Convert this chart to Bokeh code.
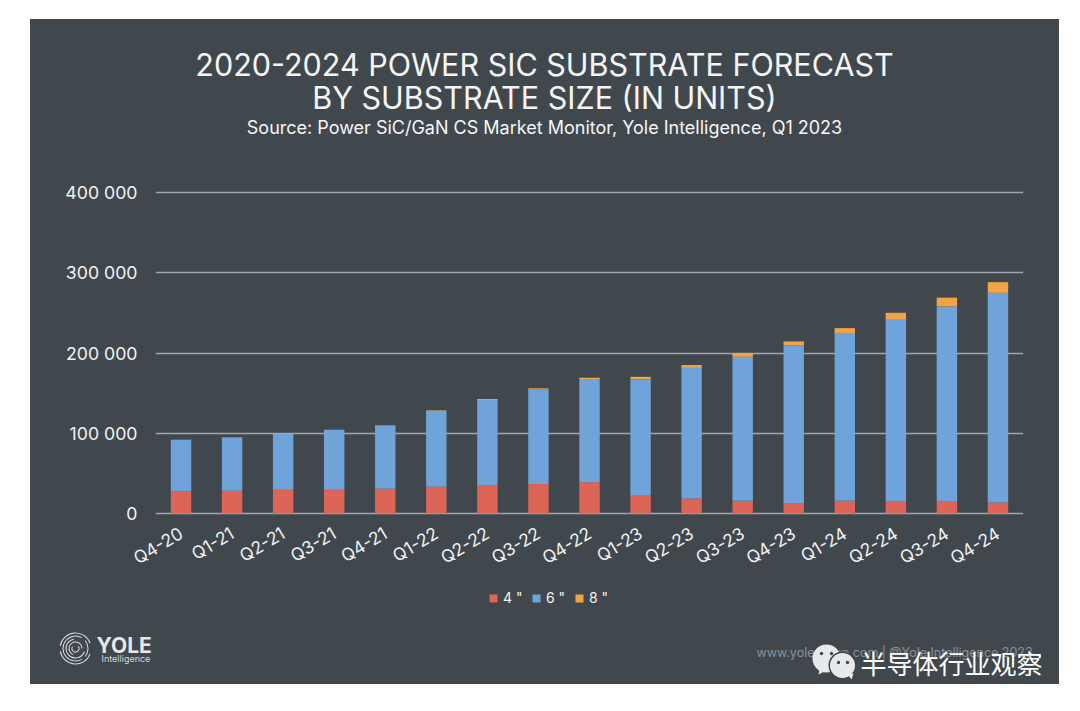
import numpy as np
from bokeh.core.properties import value
from bokeh.layouts import column
from bokeh.plotting import figure
from bokeh.models import FactorRange, Range1d, FixedTicker, Legend, LegendItem
from bokeh.embed import file_html
from bokeh.resources import INLINE

quarters = ["Q4-20", "Q1-21", "Q2-21", "Q3-21", "Q4-21", "Q1-22", "Q2-22", "Q3-22", "Q4-22",
            "Q1-23", "Q2-23", "Q3-23", "Q4-23", "Q1-24", "Q2-24", "Q3-24", "Q4-24"]
four_inch = [27500, 28300, 29600, 29600, 30800, 33300, 35000, 36700, 39000,
             22000, 18700, 15800, 12000, 15800, 15000, 14500, 13700]
six_inch = [64000, 66300, 69600, 74600, 78800, 95200, 106500, 117800, 128500,
            145400, 162800, 179500, 197400, 208200, 226400, 243500, 261300]
eight_inch = [300, 300, 300, 300, 300, 500, 1200, 1500, 1700,
              2900, 3500, 4500, 5000, 7000, 8700, 11000, 13300]
y_ticks = [0, 100000, 200000, 300000, 400000]
y_tick_labels = ["0", "100 000", "200 000", "300 000", "400 000"]
series_names = ['4 "', '6 "', '8 "']
series_colors = ["#dc6558", "#6fa3d9", "#f0a446"]

PANEL = "#41484d"
W = 1029


def sheet(y0, y1):
    """A strip of the panel whose data coordinates are the picture's pixels."""
    f = figure(width=W, height=y1 - y0, x_range=Range1d(30, 1059), y_range=Range1d(y1, y0),
               output_backend="svg", toolbar_location=None, min_border=0, frame_align=False,
               border_fill_color=None, background_fill_color=None)
    f.outline_line_color = None
    f.axis.visible = False
    f.grid.visible = False
    return f


def text(f, s, x, y, size, color="#f4f5f6", font="Inter", align="center", style="normal"):
    f.text([x], [y], text=[s], text_font=value(font), text_font_size=value(size), text_color=color,
           text_align=align, text_baseline="middle", text_font_style=style)


top = sheet(19, 170)
text(top, "2020-2024 POWER SIC SUBSTRATE FORECAST", 544, 64, "30.5px")
text(top, "BY SUBSTRATE SIZE (IN UNITS)", 544, 97, "30.5px")
text(top, "Source: Power SiC/GaN CS Market Monitor, Yole Intelligence, Q1 2023", 544, 126.5, "18px")

p = figure(width=W, height=415, x_range=FactorRange(factors=quarters, range_padding=0),
           y_range=Range1d(-2500, 402500), output_backend="svg", toolbar_location=None,
           min_border_left=125, min_border_right=36, min_border_top=20, min_border_bottom=70,
           frame_align=False, border_fill_color=None, background_fill_color=None)
p.outline_line_color = None

data = dict(q=quarters, four=four_inch, six=six_inch, eight=eight_inch)
p.vbar_stack(["four", "six", "eight"], x="q", width=0.4, source=data,
             color=series_colors, line_color=None)

p.xgrid.visible = False
p.ygrid.ticker = FixedTicker(ticks=y_ticks)
p.ygrid.grid_line_color = "#a1a6ae"
p.ygrid.grid_line_width = 1.6

p.yaxis.ticker = FixedTicker(ticks=y_ticks)
p.yaxis.major_label_overrides = dict(zip(y_ticks, y_tick_labels))
for ax in (p.xaxis[0], p.yaxis[0]):
    ax.axis_line_color = None
    ax.major_tick_line_color = None
    ax.minor_tick_line_color = None
    ax.major_label_text_color = "#f1f2f3"
    ax.major_label_text_font = "Inter"
p.yaxis[0].major_label_text_font_size = "17.7px"
p.xaxis[0].major_label_text_font_size = "17.5px"
p.yaxis[0].major_label_standoff = 12
p.xaxis[0].major_label_orientation = 0.54
p.xaxis[0].major_label_standoff = 10

bottom = sheet(585, 684)

nan = float("nan")
keys = [bottom.quad(left=[nan], right=[nan], top=[nan], bottom=[nan], color=c, line_color=None)
        for c in series_colors]
legend = Legend(items=[LegendItem(label=n, renderers=[r]) for n, r in zip(series_names, keys)],
                orientation="horizontal", location=(458, 78), background_fill_alpha=0,
                border_line_alpha=0, glyph_width=10, glyph_height=10, spacing=8, padding=0,
                label_text_color="#f1f2f3", label_text_font="Inter", label_text_font_size="14px",
                label_standoff=5, margin=0)
bottom.add_layout(legend, "center")

text(bottom, "www.yolegroup.com | @Yole Intelligence 2023", 756, 652, "12.5px", color="#8b9096", align="left")

# Yole logo
LOGO = "#d9dbdd"
for r, a0, a1 in [(16, 20, 170), (16, 190, 340), (13, 60, 300), (13, 320, 400), (10, 100, 340),
                  (7, 0, 250), (4, 150, 400)]:
    bottom.annular_wedge([75], [648], inner_radius=r - 1, outer_radius=r, start_angle=np.radians(a0),
                         end_angle=np.radians(a1), color=LOGO, line_color=None)
text(bottom, "YOLE", 96, 645, "21px", color="#e6e7e9", align="left", style="bold")
text(bottom, "Intelligence", 101, 658, "9px", color="#d5d7da", align="left")

# WeChat watermark
BUBBLE = "#e8e9ea"
bottom.circle([826], [658], radius=14, color=BUBBLE, line_color=None)
bottom.patch([819, 824, 818], [668, 671, 674], color=BUBBLE, line_color=None)
bottom.circle([842], [665], radius=14, color=PANEL, line_color=None)
bottom.circle([842], [665], radius=12.5, color=BUBBLE, line_color=None)
bottom.patch([847, 853, 851], [674, 673, 679], color=BUBBLE, line_color=None)
bottom.circle([821, 831, 838, 847], [653, 653, 662, 662], radius=1.7, color=PANEL, line_color=None)
text(bottom, "半导体行业观察", 860, 662, "26px", color="#ffffff", font="Noto Sans CJK SC", align="left")

page = column(top, p, bottom, spacing=0, margin=(19, 0, 0, 30), styles={"background-color": PANEL})
open("out.html", "w").write(file_html(page, INLINE))
